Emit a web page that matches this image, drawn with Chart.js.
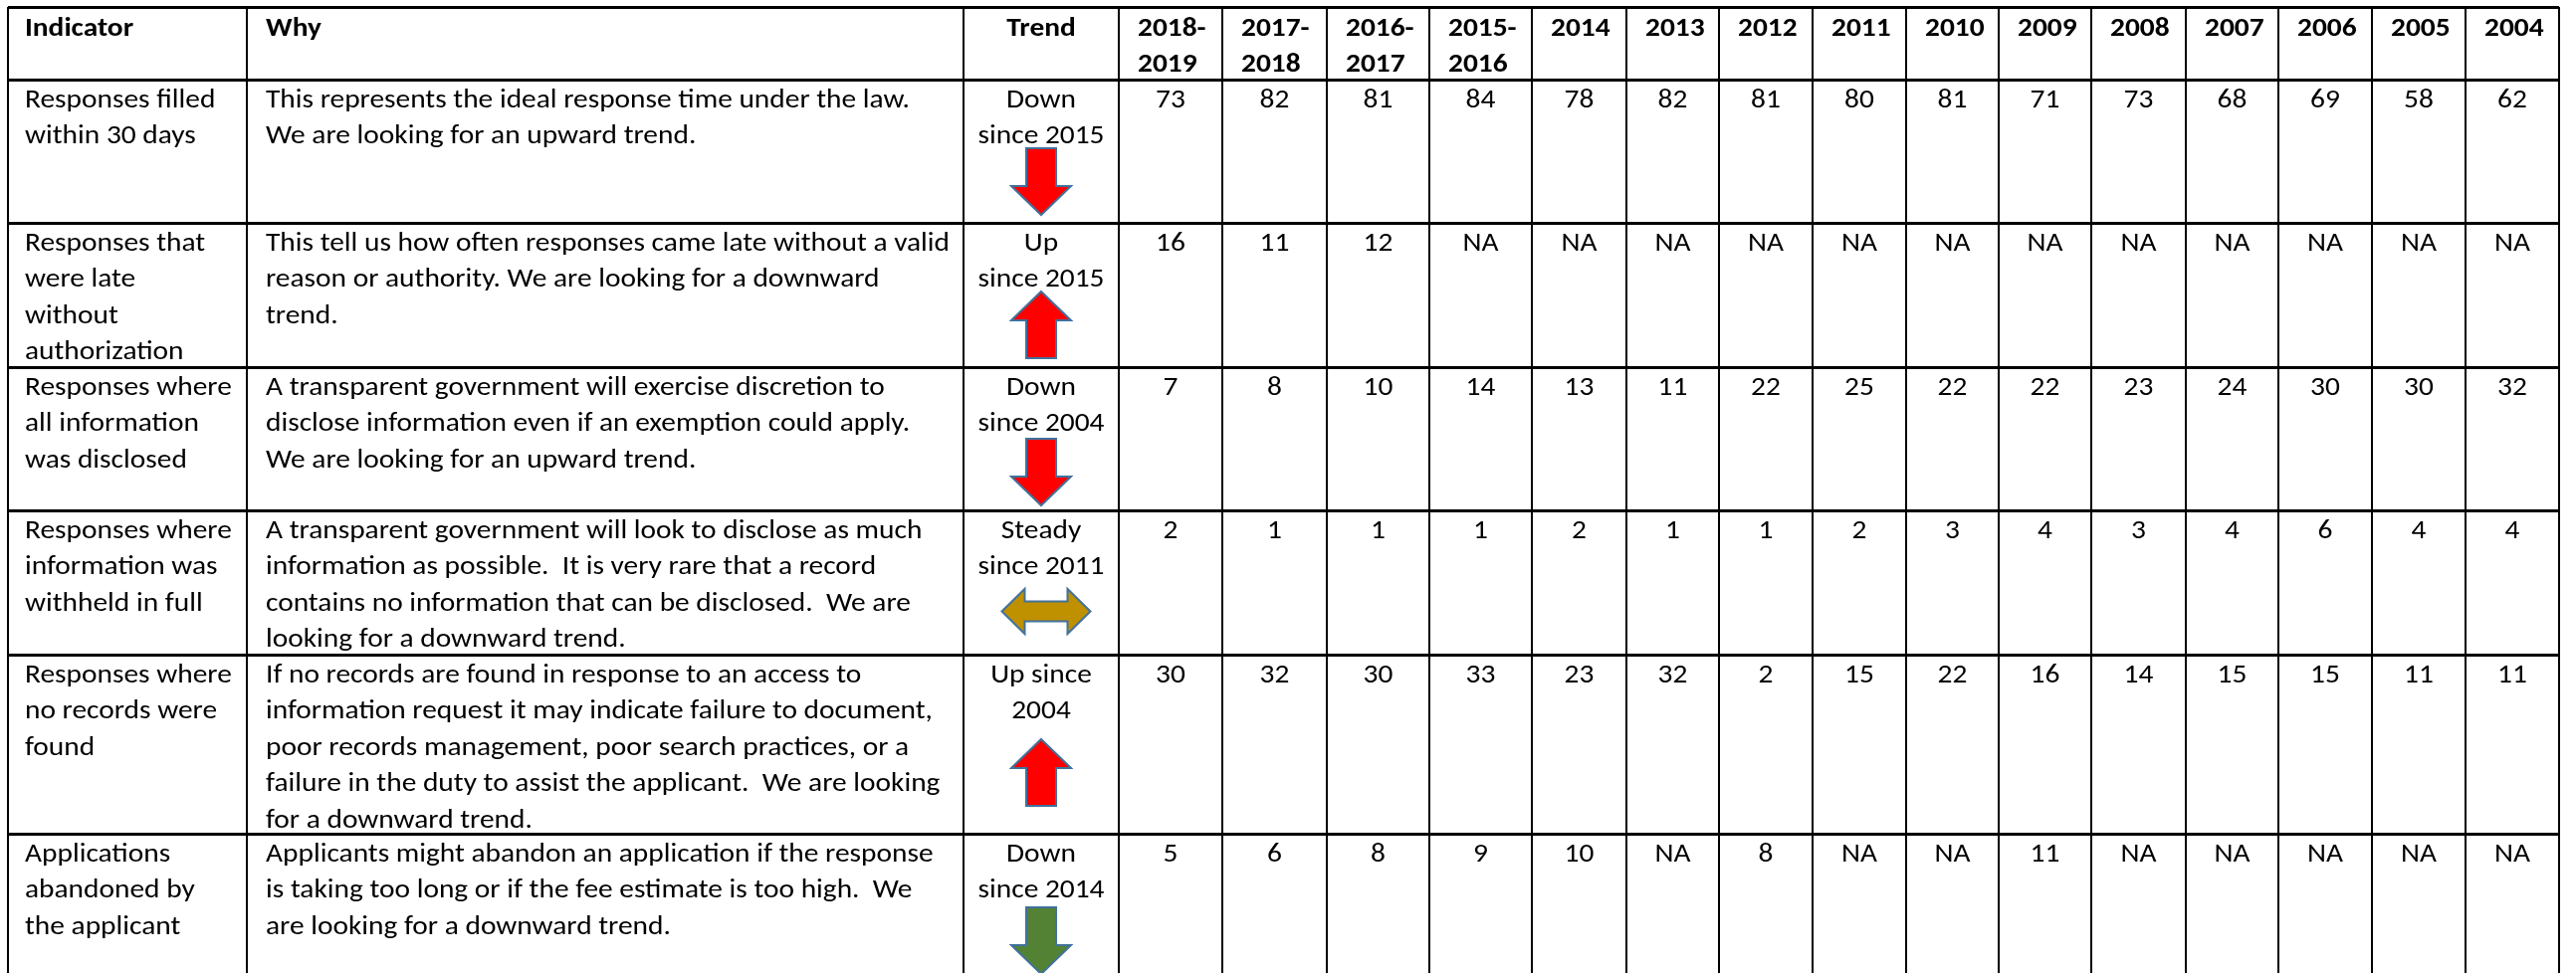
<!DOCTYPE html>
<html>
<head>
<meta charset="utf-8">
<script src="https://cdn.jsdelivr.net/npm/chart.js@4.4.1/dist/chart.umd.min.js"></script>
<style>
  html, body { margin: 0; padding: 0; background: #fff; }
  canvas { display: block; }
</style>
</head>
<body>
<canvas id="trend-table" width="2588" height="978"></canvas>
<script>
// ---- table content ----
const headers = ['Indicator', 'Why', 'Trend'];
const years = ['2018-\n2019', '2017-\n2018', '2016-\n2017', '2015-\n2016', '2014', '2013', '2012',
               '2011', '2010', '2009', '2008', '2007', '2006', '2005', '2004'];

const indicators = [
    'Responses filled\nwithin 30 days',
    'Responses that\nwere late\nwithout\nauthorization',
    'Responses where\nall information\nwas disclosed',
    'Responses where\ninformation was\nwithheld in full',
    'Responses where\nno records were\nfound',
    'Applications\nabandoned by\nthe applicant'
];

const reasons = [
    'This represents the ideal response time under the law.\nWe are looking for an upward trend.',
    'This tell us how often responses came late without a valid\nreason or authority. We are looking for a downward\ntrend.',
    'A transparent government will exercise discretion to\ndisclose information even if an exemption could apply.\nWe are looking for an upward trend.',
    'A transparent government will look to disclose as much\ninformation as possible.  It is very rare that a record\ncontains no information that can be disclosed.  We are\nlooking for a downward trend.',
    'If no records are found in response to an access to\ninformation request it may indicate failure to document,\npoor records management, poor search practices, or a\nfailure in the duty to assist the applicant.  We are looking\nfor a downward trend.',
    'Applicants might abandon an application if the response\nis taking too long or if the fee estimate is too high.  We\nare looking for a downward trend.'
];

const trendText = ['Down\nsince 2015', 'Up\nsince 2015', 'Down\nsince 2004', 'Steady\nsince 2011', 'Up since\n2004', 'Down\nsince 2014'];
const trendDirection = ['down', 'up', 'down', 'steady', 'up', 'down'];
const wantedDirection = ['up', 'down', 'up', 'down', 'down', 'down'];

// values per indicator, 2018-2019 ... 2004 (null = NA)
const filledWithin30 = [73, 82, 81, 84, 78, 82, 81, 80, 81, 71, 73, 68, 69, 58, 62];
const lateNoAuth     = [16, 11, 12, null, null, null, null, null, null, null, null, null, null, null, null];
const allDisclosed   = [7, 8, 10, 14, 13, 11, 22, 25, 22, 22, 23, 24, 30, 30, 32];
const withheldInFull = [2, 1, 1, 1, 2, 1, 1, 2, 3, 4, 3, 4, 6, 4, 4];
const noRecords      = [30, 32, 30, 33, 23, 32, 2, 15, 22, 16, 14, 15, 15, 11, 11];
const abandoned      = [5, 6, 8, 9, 10, null, 8, null, null, 11, null, null, null, null, null];
const rowValues = [filledWithin30, lateNoAuth, allDisclosed, withheldInFull, noRecords, abandoned];

// ---- layout ----
const colWidths = [240, 720, 156, 104, 105, 103, 103, 95, 93, 94, 94, 93, 93, 95, 93, 94, 94, 94];
const rowHeights = [73, 144, 145, 144, 145, 180, 150];
const arrowTop = [69, 69, 72, 79, 85, 74];     // arrow offset from row top
const arrowShift = [0, 0, 0, 5, 0, 0];

const FONT = 'Carlito, Lato, "Open Sans", sans-serif';
const FONT_SIZE = 26;
const LINE_H = 36.4;

const colEdges = [0];
colWidths.forEach(w => colEdges.push(colEdges[colEdges.length - 1] + w));
const rowEdges = [0];
rowHeights.forEach(h => rowEdges.push(rowEdges[rowEdges.length - 1] + h));

const VISIBLE_H = 971;

function arrowColor(i) {
    if (trendDirection[i] == 'steady') return '#bf9000';
    return trendDirection[i] == wantedDirection[i] ? '#548235' : '#ff0000';
}

function drawLines(ctx, text, px, py, align, bold, sx) {
    ctx.font = (bold ? 'bold ' : '') + FONT_SIZE + 'px ' + FONT;
    ctx.textAlign = align;
    ctx.textBaseline = 'alphabetic';
    ctx.fillStyle = '#000';
    text.split('\n').forEach(function (line, i) {
        ctx.save();
        ctx.translate(px, py + i * LINE_H);
        ctx.scale(sx, 1);
        ctx.fillText(line, 0, 0);
        ctx.restore();
    });
}

function drawArrow(ctx, kind, cx, top, color) {
    ctx.beginPath();
    if (kind == 'down') {
        ctx.moveTo(cx - 15, top);
        ctx.lineTo(cx + 15, top);
        ctx.lineTo(cx + 15, top + 38);
        ctx.lineTo(cx + 30, top + 38);
        ctx.lineTo(cx, top + 67);
        ctx.lineTo(cx - 30, top + 38);
        ctx.lineTo(cx - 15, top + 38);
    } else if (kind == 'up') {
        ctx.moveTo(cx, top);
        ctx.lineTo(cx + 30, top + 29);
        ctx.lineTo(cx + 15, top + 29);
        ctx.lineTo(cx + 15, top + 67);
        ctx.lineTo(cx - 15, top + 67);
        ctx.lineTo(cx - 15, top + 29);
        ctx.lineTo(cx - 30, top + 29);
    } else {
        const mid = top + 22.5;
        ctx.moveTo(cx - 44.5, mid);
        ctx.lineTo(cx - 21.5, top);
        ctx.lineTo(cx - 21.5, mid - 10);
        ctx.lineTo(cx + 21.5, mid - 10);
        ctx.lineTo(cx + 21.5, top);
        ctx.lineTo(cx + 44.5, mid);
        ctx.lineTo(cx + 21.5, top + 45);
        ctx.lineTo(cx + 21.5, mid + 10);
        ctx.lineTo(cx - 21.5, mid + 10);
        ctx.lineTo(cx - 21.5, top + 45);
    }
    ctx.closePath();
    ctx.fillStyle = color;
    ctx.fill();
    ctx.lineWidth = 2;
    ctx.strokeStyle = '#41719c';
    ctx.stroke();
}

const tablePlugin = {
    id: 'tableCells',
    afterDraw(chart) {
        const ctx = chart.ctx;
        const x = chart.scales.x;
        const y = chart.scales.y;

        // fit the fallback font to the width the original text takes
        ctx.font = FONT_SIZE + 'px ' + FONT;
        const sx = 647 / ctx.measureText('This represents the ideal response time under the law.').width;

        const left = c => x.getPixelForValue(colEdges[c]);
        const mid = c => x.getPixelForValue((colEdges[c] + colEdges[c + 1]) / 2);
        const rowY = (r, off) => y.getPixelForValue(rowEdges[r] + off);

        // header row
        drawLines(ctx, headers[0], left(0) + 17, rowY(0, 28.7), 'left', true, sx);
        drawLines(ctx, headers[1], left(1) + 19, rowY(0, 28.7), 'left', true, sx);
        drawLines(ctx, headers[2], mid(2), rowY(0, 28.7), 'center', true, sx);
        years.forEach(function (yr, i) {
            drawLines(ctx, yr, left(i + 3) + 19, rowY(0, 28.7), 'left', true, sx);
        });

        // body rows
        indicators.forEach(function (label, r) {
            const row = r + 1;
            drawLines(ctx, label, left(0) + 17, rowY(row, 28), 'left', false, sx);
            drawLines(ctx, reasons[r], left(1) + 19, rowY(row, 28), 'left', false, sx);
            drawLines(ctx, trendText[r], mid(2), rowY(row, 28), 'center', false, sx);
            rowValues[r].forEach(function (v, i) {
                drawLines(ctx, v == null ? 'NA' : String(v), mid(i + 3), rowY(row, 28), 'center', false, sx);
            });
            drawArrow(ctx, trendDirection[r], mid(2) + arrowShift[r], rowY(row, arrowTop[r]), arrowColor(r));
        });
    }
};

new Chart(document.getElementById('trend-table'), {
    type: 'scatter',
    data: { datasets: [] },
    options: {
        responsive: false,
        animation: false,
        devicePixelRatio: 1,
        layout: { padding: { left: 8, top: 7, right: 17, bottom: 0 } },
        plugins: {
            legend: { display: false },
            tooltip: { enabled: false }
        },
        scales: {
            x: {
                type: 'linear',
                min: 0,
                max: colEdges[colEdges.length - 1],
                afterBuildTicks: function (scale) {
                    scale.ticks = colEdges.map(v => ({ value: v }));
                },
                ticks: { display: false },
                border: { display: false },
                grid: { color: '#000', lineWidth: 2, drawTicks: false }
            },
            y: {
                type: 'linear',
                reverse: true,
                min: 0,
                max: VISIBLE_H,
                afterBuildTicks: function (scale) {
                    scale.ticks = rowEdges.filter(v => v <= VISIBLE_H).map(v => ({ value: v }));
                },
                ticks: { display: false },
                border: { display: false },
                grid: { color: '#000', lineWidth: 3, drawTicks: false }
            }
        }
    },
    plugins: [tablePlugin]
});
</script>
</body>
</html>
